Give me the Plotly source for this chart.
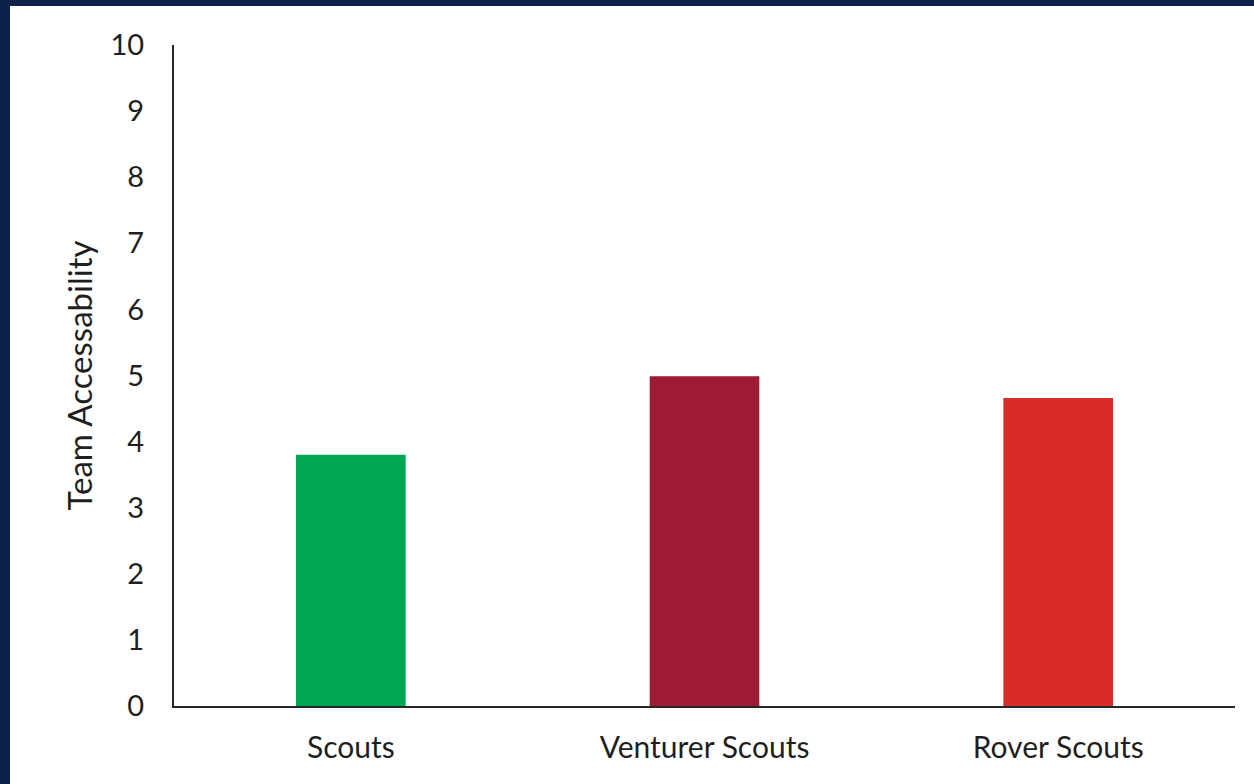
import plotly.graph_objects as go

categories = ["Scouts", "Venturer Scouts", "Rover Scouts"]
values = [3.8, 4.99, 4.66]
bar_colors = ["#00A651", "#9E1B34", "#D92B27"]
y_ticks = list(range(0, 11))

W, H = 1254, 784
ml, mr, mt, mb = 174, 19, 45, 78
pw, ph = W - ml - mr, H - mt - mb

fig = go.Figure(go.Bar(
    x=categories, y=values, marker=dict(color=bar_colors, line=dict(width=0)),
    width=0.31,
))

font_family = "Lato, Open Sans, sans-serif"
fig.update_layout(
    width=W, height=H,
    margin=dict(l=ml, r=mr, t=mt, b=mb),
    paper_bgcolor="#0c214a",
    plot_bgcolor="rgba(0,0,0,0)",
    showlegend=False,
    font=dict(family=font_family, color="#1f1f1f", size=30),
    shapes=[dict(
        type="rect", xref="paper", yref="paper", layer="below",
        x0=(10 - ml) / pw, x1=(W - ml + 5) / pw,
        y0=-(mb + 5) / ph, y1=(H - mb - 6) / ph,
        fillcolor="white", line=dict(width=0),
    )],
)
fig.update_yaxes(
    range=[0, 10], tickvals=y_ticks, showgrid=False, zeroline=False,
    showline=True, linecolor="#262626", linewidth=2,
    ticks="outside", ticklen=22, tickcolor="rgba(0,0,0,0)",
    tickfont=dict(size=29),
    title=dict(text="Team Accessability", font=dict(size=33), standoff=8),
)
fig.update_xaxes(
    showgrid=False, showline=True, linecolor="#262626", linewidth=2,
    ticks="outside", ticklen=14, tickcolor="rgba(0,0,0,0)",
    tickfont=dict(size=30),
)

fig.write_html(
    "out.html",
    config={"displayModeBar": False},
    post_script="document.body.style.margin='0';document.body.style.overflow='hidden';",
)
